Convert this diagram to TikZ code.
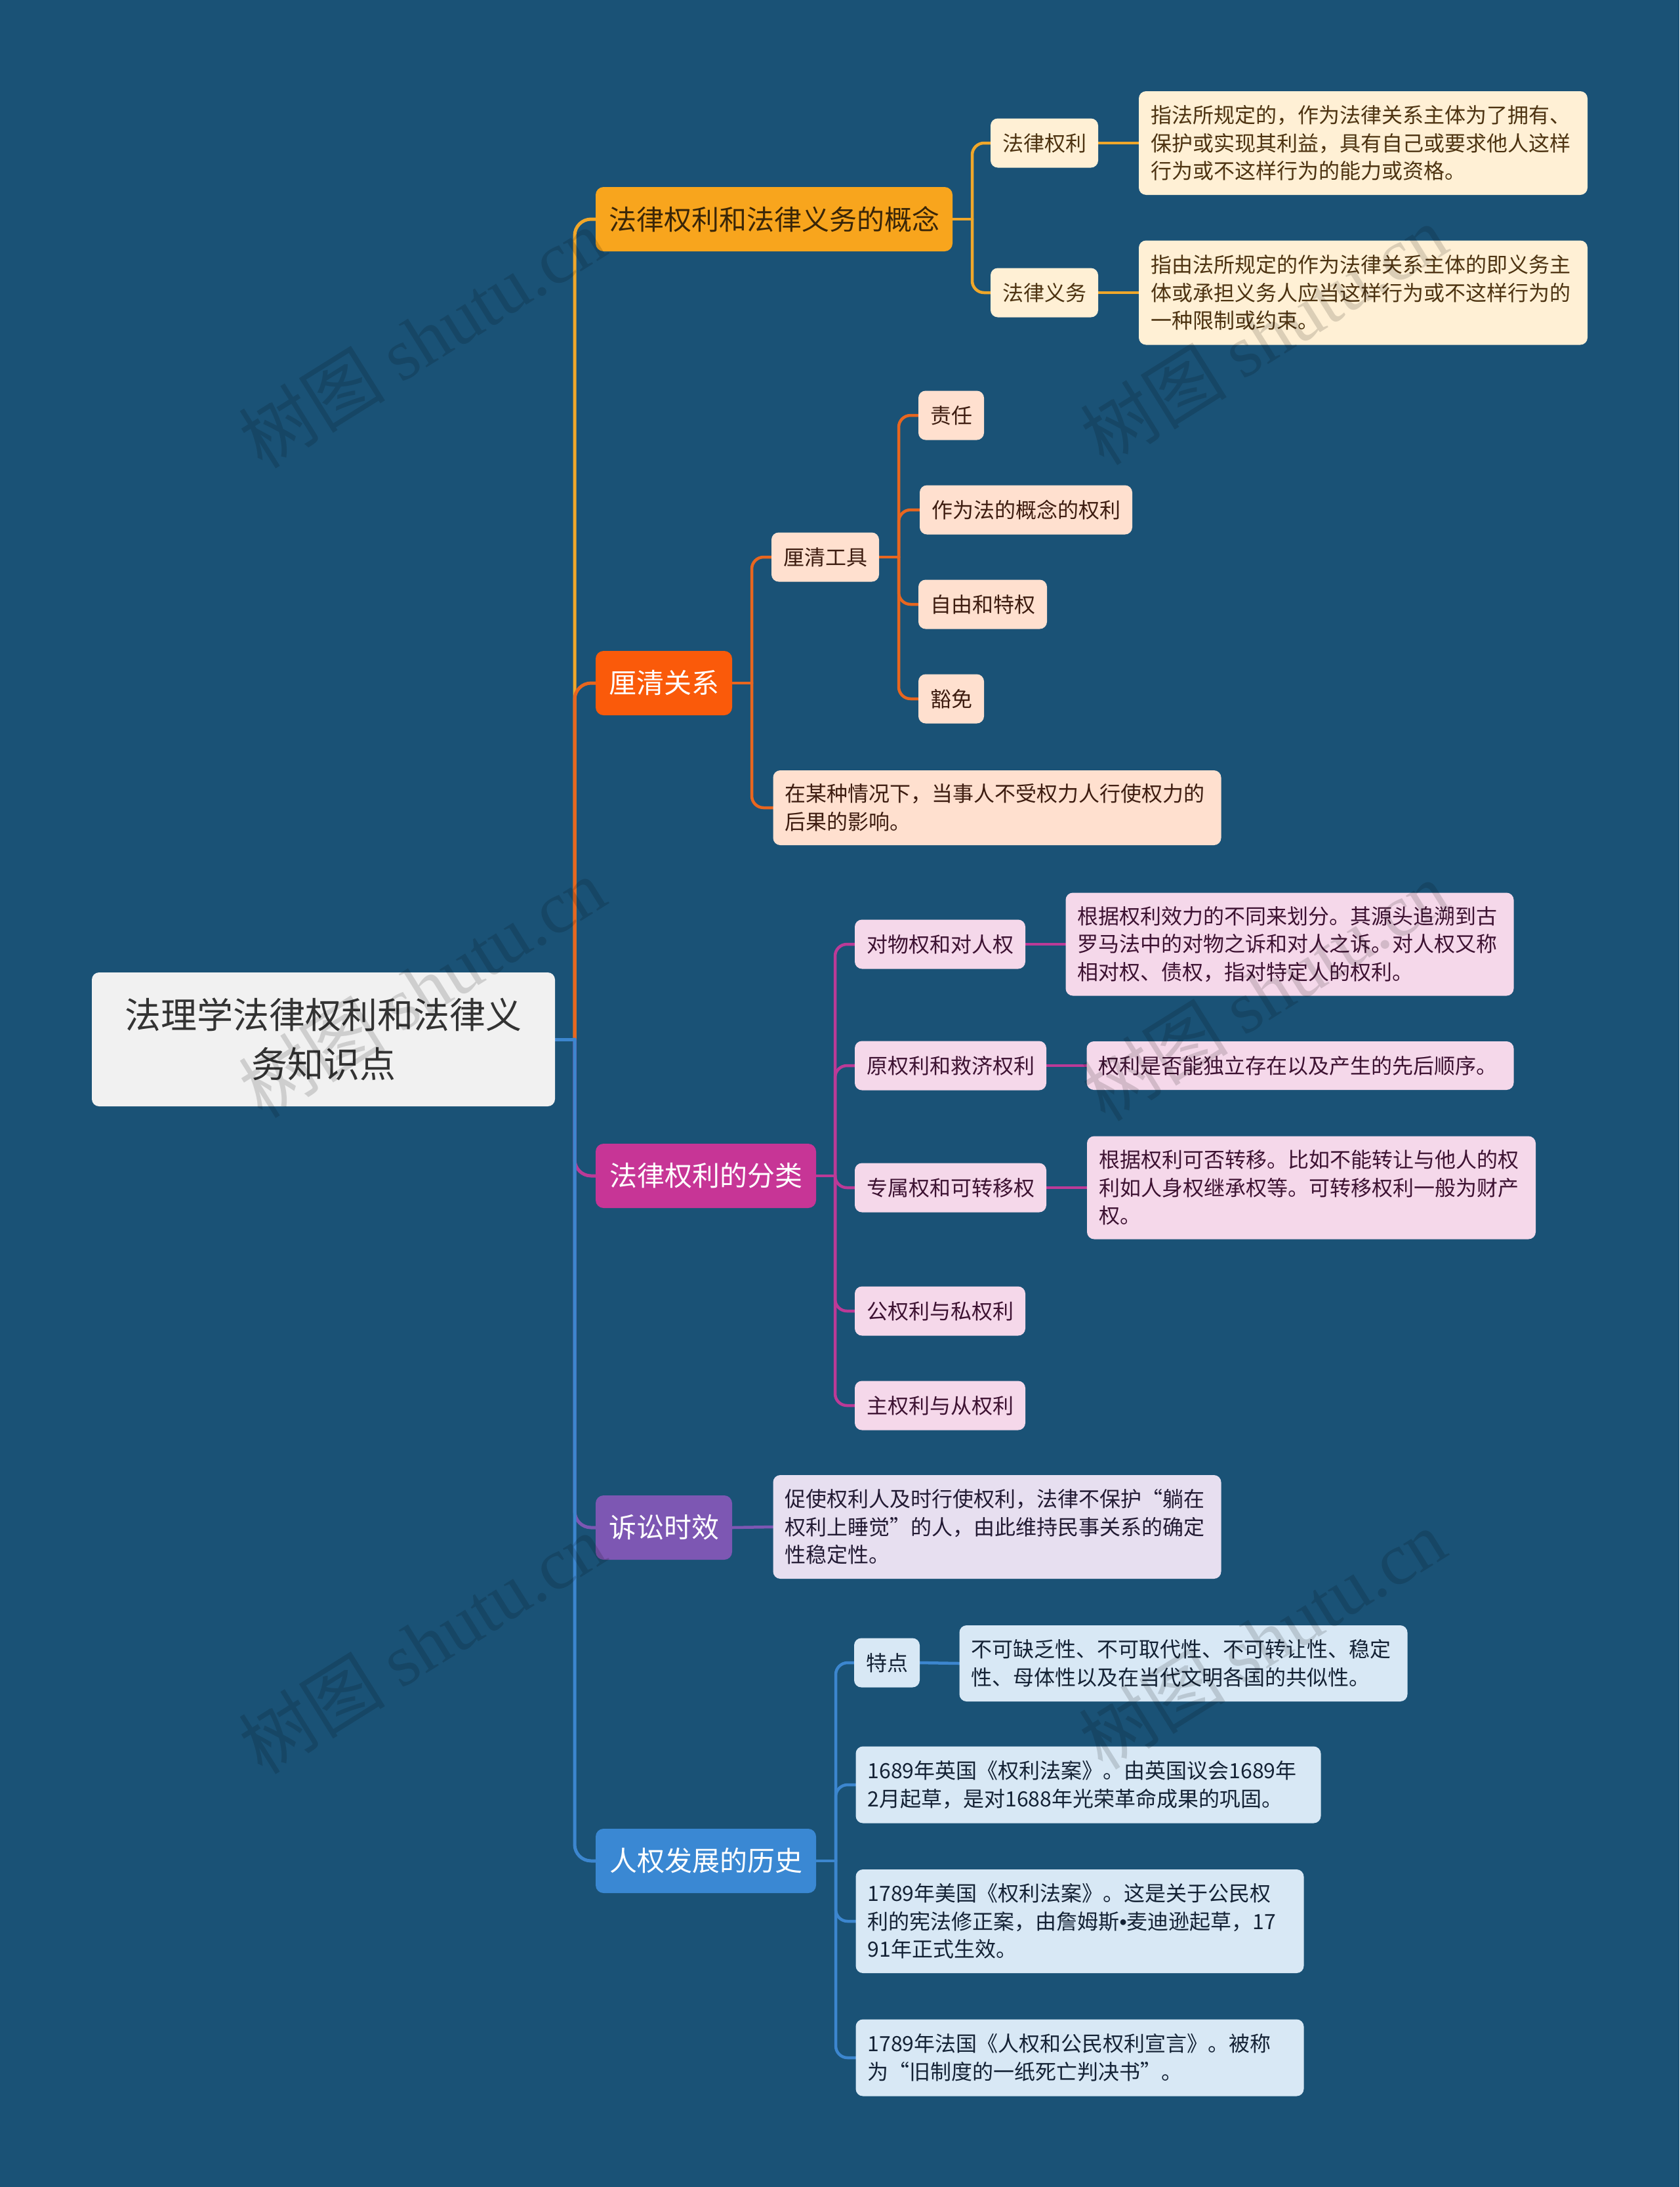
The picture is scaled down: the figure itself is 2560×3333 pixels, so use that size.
\documentclass[tikz,border=0pt]{standalone}
\usepackage{fontspec}
\setmainfont{Noto Sans CJK SC}
\newfontfamily\wmlatin{Liberation Serif}
\newfontfamily\lsans{Liberation Sans}
\pgfdeclarelayer{back}
\pgfdeclarelayer{lines}
\pgfdeclarelayer{front}
\pgfsetlayers{back,lines,main,front}
\definecolor{bgc}{HTML}{1A5276}
\definecolor{rootfill}{HTML}{F1F1F1}
\definecolor{roottext}{HTML}{333333}
\definecolor{Yfill}{HTML}{F8A51D}
\definecolor{Yline}{HTML}{F0A72A}
\definecolor{Ytext}{HTML}{3A2608}
\definecolor{Ysub}{HTML}{FFF0D5}
\definecolor{Ysubtext}{HTML}{4D3311}
\definecolor{Ofill}{HTML}{FA5A0A}
\definecolor{Oline}{HTML}{E8661F}
\definecolor{Osub}{HTML}{FFE0CF}
\definecolor{Osubtext}{HTML}{3D1C10}
\definecolor{Mfill}{HTML}{C73596}
\definecolor{Mline}{HTML}{BC3A97}
\definecolor{Msub}{HTML}{F5D8EA}
\definecolor{Msubtext}{HTML}{3D1232}
\definecolor{Pfill}{HTML}{7D57B3}
\definecolor{Pline}{HTML}{7D57B3}
\definecolor{Psub}{HTML}{E7DFF0}
\definecolor{Psubtext}{HTML}{221A33}
\definecolor{Bfill}{HTML}{3A88D3}
\definecolor{Bline}{HTML}{3C86CF}
\definecolor{Bsub}{HTML}{D8E8F5}
\definecolor{Bsubtext}{HTML}{142235}
\tikzset{
  basebox/.style={rounded corners=11pt, inner xsep=18pt, inner ysep=0pt, align=center},
  rootbox/.style={basebox, fill=rootfill, text=roottext, font=\fontsize{55}{75}\selectfont},
  mainbox/.style={basebox, rounded corners=12pt, text=white, font=\fontsize{42}{50}\selectfont, minimum height=98pt},
  subbox/.style={basebox, font=\fontsize{32}{42.5}\selectfont, minimum height=75pt},
  descbox/.style={subbox, align=left},
  yb/.style={subbox, fill=Ysub, text=Ysubtext},
  ob/.style={subbox, fill=Osub, text=Osubtext},
  mb/.style={subbox, fill=Msub, text=Msubtext},
  pb/.style={subbox, fill=Psub, text=Psubtext},
  bb/.style={subbox, fill=Bsub, text=Bsubtext},
  conn/.style={line width=4.5pt, line cap=round, rounded corners=18pt},
  trunk/.style={line width=5pt, line cap=round, rounded corners=25pt},
  wm/.style={text=black, opacity=0.14, font=\fontsize{112}{112}\selectfont, rotate=32}
}
\begin{document}
\begin{tikzpicture}[x=1pt,y=-1pt]
\begin{pgfonlayer}{back}
\fill[bgc] (0,0) rectangle (2560,3333);
\end{pgfonlayer}
\useasboundingbox (0,0) rectangle (2560,3333);

% root
\node[rootbox, minimum width=706pt, minimum height=204pt] (root) at (493,1584) {法理学法律权利和法律义\\务知识点};

% main branches
\node[mainbox, fill=Yfill, text=Ytext, minimum width=544pt] (b1) at (1180,334) {法律权利和法律义务的概念};
\node[mainbox, fill=Ofill, minimum width=208pt] (b2) at (1012,1041) {厘清关系};
\node[mainbox, fill=Mfill, minimum width=336pt] (b3) at (1076,1792) {法律权利的分类};
\node[mainbox, fill=Pfill, minimum width=208pt] (b4) at (1012,2328) {诉讼时效};
\node[mainbox, fill=Bfill, minimum width=336pt] (b5) at (1076,2836) {人权发展的历史};

% branch 1
\node[yb, minimum width=161pt] (s11) at (1592,218) {法律权利};
\node[yb, minimum width=161pt] (s12) at (1592,446) {法律义务};
\node[yb, descbox, text width=648pt, minimum height=158pt] (d11) at (2078,218) {指法所规定的，作为法律关系主体为了拥有、\\保护或实现其利益，具有自己或要求他人这样\\行为或不这样行为的能力或资格。};
\node[yb, descbox, text width=648pt, minimum height=159pt] (d12) at (2078,446) {指由法所规定的作为法律关系主体的即义务主\\体或承担义务人应当这样行为或不这样行为的\\一种限制或约束。};

% branch 2
\node[ob, minimum width=161pt] (s21) at (1258,849) {厘清工具};
\node[ob, minimum width=96pt] (s211) at (1450,633) {责任};
\node[ob, minimum width=324pt] (s212) at (1564,777) {作为法的概念的权利};
\node[ob, minimum width=193pt] (s213) at (1498,921) {自由和特权};
\node[ob, minimum width=96pt] (s214) at (1450,1065) {豁免};
\node[ob, descbox, text width=647pt, minimum height=114pt] (d22) at (1520,1231) {在某种情况下，当事人不受权力人行使权力的\\后果的影响。};

% branch 3
\node[mb, minimum width=258pt] (s31) at (1433,1439) {对物权和对人权};
\node[mb, descbox, text width=647pt, minimum height=157pt] (d31) at (1966,1439) {根据权利效力的不同来划分。其源头追溯到古\\罗马法中的对物之诉和对人之诉。对人权又称\\相对权、债权，指对特定人的权利。};
\node[mb, minimum width=291pt] (s32) at (1449,1624) {原权利和救济权利};
\node[mb, descbox, text width=615pt, minimum height=74pt] (d32) at (1982,1624) {权利是否能独立存在以及产生的先后顺序。};
\node[mb, minimum width=291pt] (s33) at (1449,1810) {专属权和可转移权};
\node[mb, descbox, text width=648pt, minimum height=157pt] (d33) at (1999,1810) {根据权利可否转移。比如不能转让与他人的权\\利如人身权继承权等。可转移权利一般为财产\\权。};
\node[mb, minimum width=258pt] (s34) at (1433,1998) {公权利与私权利};
\node[mb, minimum width=258pt] (s35) at (1433,2142) {主权利与从权利};

% branch 4
\node[pb, descbox, text width=647pt, minimum height=158pt] (d4) at (1520,2327) {促使权利人及时行使权利，法律不保护“躺在\\权利上睡觉”的人，由此维持民事关系的确定\\性稳定性。};

% branch 5
\node[bb, minimum width=95pt] (s51) at (1352,2534) {特点};
\node[bb, descbox, text width=647pt, minimum height=116pt] (d51) at (1804,2535) {不可缺乏性、不可取代性、不可转让性、稳定\\性、母体性以及在当代文明各国的共似性。};
\node[bb, descbox, text width=673pt, minimum height=117pt] (d52) at (1659,2720) {1689年英国《权利法案》。由英国议会1689年\\2月起草，是对1688年光荣革命成果的巩固。};
\node[bb, descbox, text width=647pt, minimum height=158pt] (d53) at (1646,2928) {1789年美国《权利法案》。这是关于公民权\\利的宪法修正案，由詹姆斯{\lsans •}麦迪逊起草，17\\91年正式生效。};
\node[bb, descbox, text width=647pt, minimum height=117pt] (d54) at (1646,3136) {1789年法国《人权和公民权利宣言》。被称\\为“旧制度的一纸死亡判决书”。};

% connectors
\coordinate (hub) at (876,1584);
\coordinate (h1) at (1482,334);
\coordinate (h2) at (1146,1041);
\coordinate (h21) at (1370,849);
\coordinate (h3) at (1273,1792);
\coordinate (h5) at (1274,2836);
\begin{pgfonlayer}{lines}
\draw[trunk, Yline] (hub) |- (b1.west);
\draw[trunk, Oline] (hub) |- (b2.west);
\draw[trunk, Mline] (hub) |- (b3.west);
\draw[trunk, Pline] (hub) |- (b4.west);
\draw[trunk, Bline] (hub) |- (b5.west);
\draw[trunk, Bline] (root.east) -- (hub);

\draw[conn, Yline] (b1.east) -- (h1);
\draw[conn, Yline] (h1) |- (s11.west);
\draw[conn, Yline] (h1) |- (s12.west);
\draw[conn, Yline] (s11.east) -- (d11.west);
\draw[conn, Yline] (s12.east) -- (d12.west);

\draw[conn, Oline] (b2.east) -- (h2);
\draw[conn, Oline] (h2) |- (s21.west);
\draw[conn, Oline] (h2) |- (d22.west);
\draw[conn, Oline] (s21.east) -- (h21);
\draw[conn, Oline] (h21) |- (s211.west);
\draw[conn, Oline] (h21) |- (s212.west);
\draw[conn, Oline] (h21) |- (s213.west);
\draw[conn, Oline] (h21) |- (s214.west);

\draw[conn, Mline] (b3.east) -- (h3);
\foreach \n in {s31,s32,s33,s34,s35} \draw[conn, Mline] (h3) |- (\n.west);
\draw[conn, Mline] (s31.east) -- (d31.west);
\draw[conn, Mline] (s32.east) -- (d32.west);
\draw[conn, Mline] (s33.east) -- (d33.west);

\draw[conn, Pline] (b4.east) -- (d4.west);

\draw[conn, Bline] (b5.east) -- (h5);
\foreach \n in {s51,d52,d53,d54} \draw[conn, Bline] (h5) |- (\n.west);
\draw[conn, Bline] (s51.east) -- (d51.west);
\end{pgfonlayer}

% watermarks
\begin{pgfonlayer}{front}
\foreach \i/\x/\y in {1/643/515, 2/1926/510, 3/643/1505, 4/1928/1510, 5/643/2505, 6/1924/2498}
  \node[wm] (wm\i) at (\x,\y) {树图 {\wmlatin shutu.cn}};
\end{pgfonlayer}
\end{tikzpicture}
\end{document}
